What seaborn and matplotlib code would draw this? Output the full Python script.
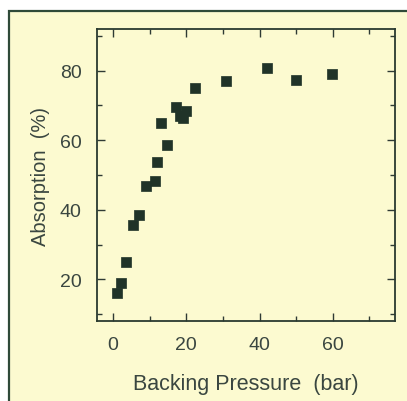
import matplotlib
matplotlib.use("Agg")
import matplotlib.pyplot as plt
import seaborn as sns
import pandas as pd
from matplotlib.patches import Rectangle
from matplotlib.ticker import MultipleLocator

pressure = [1.1, 2.1, 3.6, 5.5, 7.1, 9.1, 11.4, 12.1, 13.0, 14.7,
            17.1, 18.4, 19.1, 20.0, 22.3, 30.9, 42.1, 50.0, 59.8]
absorption = [16.0, 18.9, 25.0, 35.7, 38.4, 46.9, 48.3, 53.6, 65.1, 58.6,
              69.6, 67.0, 66.3, 68.5, 75.0, 77.0, 80.8, 77.4, 79.1]
x_ticks = [0, 20, 40, 60]
y_ticks = [20, 40, 60, 80]
x_label = "Backing Pressure  (bar)"
y_label = "Absorption  (%)"

sns.set_style("ticks")
plt.rcParams['font.family'] = ['Liberation Sans', 'DejaVu Sans']

bg = "#fcfad0"
txt = "#3a4640"
mark = "#203328"

fig = plt.figure(figsize=(4.07, 4.02), dpi=100, facecolor="white")
fig.patches.append(Rectangle((9/407, -0.05), 1.1, (402-12)/402 + 0.05,
                             transform=fig.transFigure, facecolor=bg,
                             edgecolor="#2f4a38", linewidth=1.6, zorder=-10))
ax = fig.add_axes([97/407, 80/402, 298/407, 292/402])
ax.set_facecolor(bg)

df = pd.DataFrame({"p": pressure, "a": absorption})
sns.scatterplot(data=df, x="p", y="a", marker="s", s=62, color=mark,
                edgecolor=mark, linewidth=0.5, ax=ax)

ax.set_xlim(-4.4, 77)
ax.set_ylim(8, 92)
ax.set_xticks(x_ticks)
ax.set_yticks(y_ticks)
ax.xaxis.set_minor_locator(MultipleLocator(10))
ax.yaxis.set_minor_locator(MultipleLocator(10))
ax.tick_params(which="both", direction="in", top=True, right=True,
               colors="#2f3a34", labelcolor=txt, labelsize=14)
ax.tick_params(which="major", length=6, width=1.0, pad=11)
ax.tick_params(which="minor", length=3.5, width=1.0)
for s in ax.spines.values():
    s.set_color("#2a3a30")
    s.set_linewidth(1.3)
ax.set_xlabel(x_label, fontsize=15.5, color=txt, labelpad=14)
ax.set_ylabel(y_label, fontsize=14.5, color=txt, labelpad=7)

fig.savefig("out.png", dpi=100, facecolor="white")
